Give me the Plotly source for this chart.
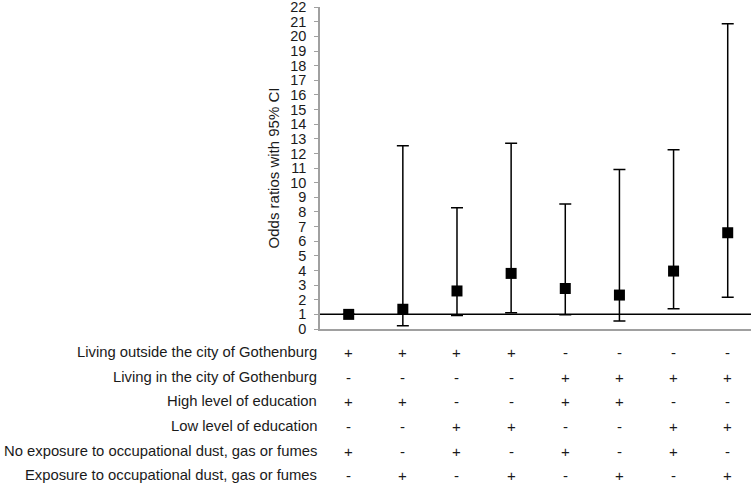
import plotly.graph_objects as go

# odds ratios and 95% CI
groups = ["G1", "G2", "G3", "G4", "G5", "G6", "G7", "G8"]
odds_ratio = [1.0, 1.35, 2.6, 3.8, 2.77, 2.32, 3.96, 6.58]
ci_low = [None, 0.23, 0.93, 1.11, 0.98, 0.55, 1.39, 2.17]
ci_high = [None, 12.52, 8.29, 12.7, 8.54, 10.9, 12.25, 20.87]

row_labels = [
    "Living outside the city of Gothenburg",
    "Living in the city of Gothenburg",
    "High level of education",
    "Low level of education",
    "No exposure to occupational dust, gas or fumes",
    "Exposure to occupational dust, gas or fumes",
]
row_signs = [
    ["+", "+", "+", "+", "-", "-", "-", "-"],
    ["-", "-", "-", "-", "+", "+", "+", "+"],
    ["+", "+", "-", "-", "+", "+", "-", "-"],
    ["-", "-", "+", "+", "-", "-", "+", "+"],
    ["+", "-", "+", "-", "+", "-", "+", "-"],
    ["-", "+", "-", "+", "-", "+", "-", "+"],
]

FONT = "Liberation Sans, Arial, sans-serif"
TXT = "#1a1a1a"

err_plus = [None if h is None else h - o for h, o in zip(ci_high, odds_ratio)]
err_minus = [None if l is None else o - l for l, o in zip(ci_low, odds_ratio)]

xs = list(range(len(groups)))

fig = go.Figure()
fig.add_trace(go.Scatter(
    x=xs, y=odds_ratio, mode="markers",
    marker=dict(symbol="square", size=11, color="black"),
    error_y=dict(type="data", symmetric=False, array=err_plus, arrayminus=err_minus,
                 color="black", thickness=1.5, width=6),
    showlegend=False, hoverinfo="skip",
))

# reference line at OR = 1
fig.add_shape(type="line", xref="paper", yref="y", x0=0, x1=1, y0=1, y1=1,
              line=dict(color="black", width=1.5), layer="below")

# table of +/- below the plot
row_y = [352, 377, 401, 426, 451, 475]
plot_top, plot_bottom = 7, 329
for label, signs, py in zip(row_labels, row_signs, row_y):
    yp = (plot_bottom - py) / (plot_bottom - plot_top)
    fig.add_annotation(x=0, xref="paper", y=yp, yref="paper", text=label,
                       showarrow=False, xanchor="right", yanchor="middle", xshift=-1,
                       font=dict(family=FONT, size=14.8, color=TXT))
    for xi, s in zip(xs, signs):
        fig.add_annotation(x=xi, xref="x", y=yp, yref="paper", text=s,
                           showarrow=False, xanchor="center", yanchor="middle",
                           font=dict(family=FONT, size=15, color=TXT))

fig.update_layout(
    width=751, height=488,
    margin=dict(l=320, r=0, t=7, b=159),
    plot_bgcolor="white", paper_bgcolor="white",
    font=dict(family=FONT, color=TXT),
    xaxis=dict(range=[-0.53, 7.43], showticklabels=False, showgrid=False, zeroline=False,
               showline=True, linecolor="#a0a0a0", linewidth=1.5, ticks="",
               automargin=False),
    yaxis=dict(range=[0, 22.01], dtick=1, tick0=0, showgrid=False, zeroline=False,
               showline=True, linecolor="#a0a0a0", linewidth=1.5,
               ticks="outside", ticklen=4, tickcolor="#a0a0a0", automargin=False,
               ticklabeloverflow="allow", ticklabelstandoff=5,
               tickfont=dict(family=FONT, size=14.5, color=TXT),
               title=dict(text="Odds ratios with 95% CI", standoff=7,
                          font=dict(family=FONT, size=15, color=TXT))),
)

# page has a default body margin; drop it so the chart sits at the window corner
fig.write_html("out.html", config={"displayModeBar": False},
               post_script="document.body.style.margin='0';")
